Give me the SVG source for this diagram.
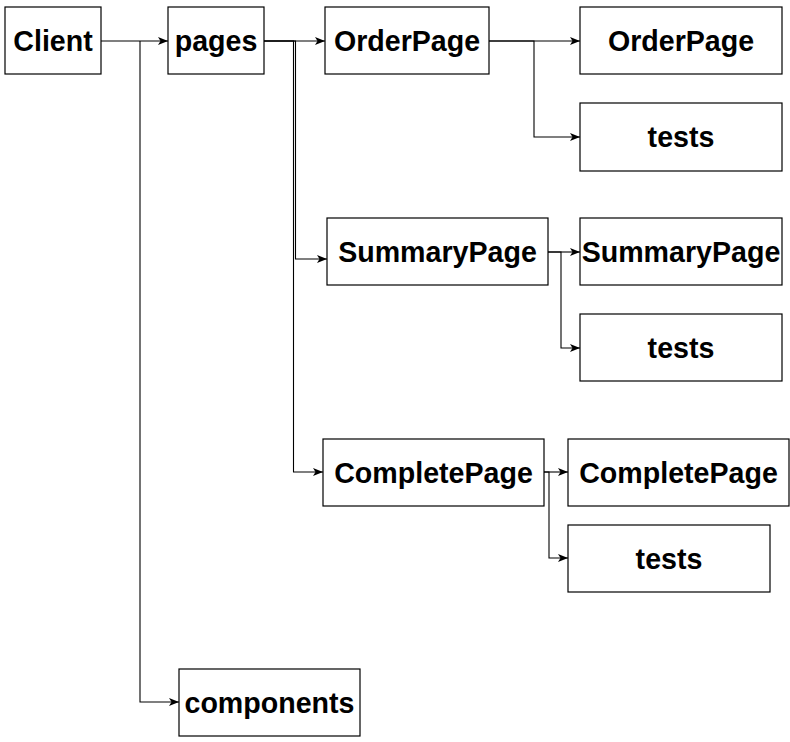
<svg xmlns="http://www.w3.org/2000/svg" width="790" height="742" viewBox="0 0 790 742">
<style>
.box{fill:#fff;stroke:#000;stroke-width:1.2}
.lbl{font-family:"Liberation Sans",Arial,sans-serif;font-weight:bold;font-size:28.6px;fill:#000;text-anchor:middle}
.edge{fill:none;stroke:#000;stroke-width:1.1}
</style>
<defs>
<marker id="arr" viewBox="0 0 10 8" refX="10" refY="4" markerWidth="10" markerHeight="8" markerUnits="userSpaceOnUse" orient="auto">
<path d="M0,0 L10,4 L0,8 L2.5,4 z" fill="#000"/>
</marker>
</defs>
<rect width="790" height="742" fill="#fff"/>
<g id="connectors">
<path class="edge" d="M101,41 H168" marker-end="url(#arr)"/>
<path class="edge" d="M140,41 V702 H179" marker-end="url(#arr)"/>
<path class="edge" d="M264,41 H325" marker-end="url(#arr)"/>
<path class="edge" d="M264,41 H295.5 V259 H327" marker-end="url(#arr)"/>
<path class="edge" d="M264,41 H293.5 V472 H323" marker-end="url(#arr)"/>
<path class="edge" d="M489,41 H580" marker-end="url(#arr)"/>
<path class="edge" d="M489,41 H534 V137 H580" marker-end="url(#arr)"/>
<path class="edge" d="M548,252 H580" marker-end="url(#arr)"/>
<path class="edge" d="M548,252 H561 V348 H580" marker-end="url(#arr)"/>
<path class="edge" d="M544,472 H568" marker-end="url(#arr)"/>
<path class="edge" d="M544,472 H549 V558 H568" marker-end="url(#arr)"/>
</g>
<g id="client"><rect class="box" x="5" y="7" width="96" height="67"/><text class="lbl" x="53" y="51">Client</text></g>
<g id="pages"><rect class="box" x="168" y="7" width="96" height="67"/><text class="lbl" x="216" y="51">pages</text></g>
<g id="orderpage"><rect class="box" x="325" y="7" width="164" height="67"/><text class="lbl" x="407" y="51">OrderPage</text></g>
<g id="orderpage-child"><rect class="box" x="580" y="7" width="202" height="67"/><text class="lbl" x="681" y="51">OrderPage</text></g>
<g id="orderpage-tests"><rect class="box" x="580" y="103" width="202" height="68"/><text class="lbl" x="681" y="147">tests</text></g>
<g id="summarypage"><rect class="box" x="327" y="218" width="221" height="67"/><text class="lbl" x="437.5" y="262">SummaryPage</text></g>
<g id="summarypage-child"><rect class="box" x="580" y="218" width="202" height="67"/><text class="lbl" x="681" y="262">SummaryPage</text></g>
<g id="summarypage-tests"><rect class="box" x="580" y="314" width="202" height="67"/><text class="lbl" x="681" y="358">tests</text></g>
<g id="completepage"><rect class="box" x="323" y="439" width="221" height="67"/><text class="lbl" x="433.5" y="483">CompletePage</text></g>
<g id="completepage-child"><rect class="box" x="568" y="439" width="221" height="67"/><text class="lbl" x="678.5" y="483">CompletePage</text></g>
<g id="completepage-tests"><rect class="box" x="568" y="525" width="202" height="67"/><text class="lbl" x="669" y="569">tests</text></g>
<g id="components"><rect class="box" x="179" y="669" width="181" height="67"/><text class="lbl" x="269.5" y="713">components</text></g>
</svg>
